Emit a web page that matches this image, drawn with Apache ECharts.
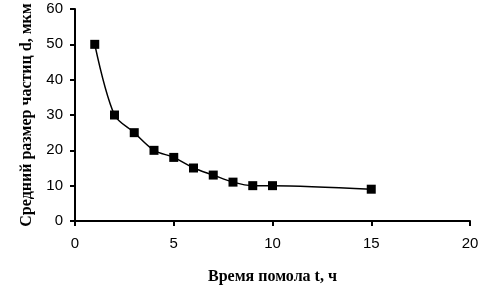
<!DOCTYPE html>
<html><head><meta charset="utf-8">
<script src="https://cdn.jsdelivr.net/npm/echarts@6/dist/echarts.min.js"></script>
<style>html,body{margin:0;padding:0;background:#fff}#c{width:495px;height:292px}</style>
</head><body><div id="c"></div>
<script>
const timeH = [1, 2, 3, 4, 5, 6, 7, 8, 9, 10, 15];
const sizeUm = [50, 30, 25, 20, 18, 15, 13, 11, 10, 10, 9];
const xTitle = 'Время помола t, ч';
const yTitle = 'Средний размер частиц d, мкм';

const chart = echarts.init(document.getElementById('c'), null, {renderer: 'canvas'});
const axisCommon = {
  axisLine: {show: true, lineStyle: {color: '#000', width: 2}},
  axisTick: {show: true, inside: false, length: 5, lineStyle: {color: '#000', width: 2}},
  splitLine: {show: false},
  axisLabel: {color: '#000', fontFamily: 'Liberation Sans, Arial', fontSize: 15},
  nameTextStyle: {color: '#000', fontFamily: 'Liberation Serif, Times New Roman', fontWeight: 'bold', fontSize: 16}
};
chart.setOption({
  animation: false,
  backgroundColor: '#fff',
  grid: {left: 75, right: 25, top: 9, bottom: 71, containLabel: false},
  xAxis: Object.assign({}, axisCommon, {
    type: 'value', min: 0, max: 20, interval: 5,
    name: xTitle, nameLocation: 'middle', nameGap: 48,
    axisLabel: Object.assign({}, axisCommon.axisLabel, {margin: 15})
  }),
  yAxis: Object.assign({}, axisCommon, {
    type: 'value', min: 0, max: 60, interval: 10,
    name: yTitle, nameLocation: 'middle', nameGap: 40, nameRotate: 90,
    axisLabel: Object.assign({}, axisCommon.axisLabel, {margin: 12})
  }),
  series: [{
    type: 'line',
    data: timeH.map((t, i) => [t, sizeUm[i]]),
    smooth: 0.3,
    symbol: 'rect', symbolSize: 9,
    itemStyle: {color: '#000'},
    lineStyle: {color: '#000', width: 1.5}
  }]
});
</script></body></html>
